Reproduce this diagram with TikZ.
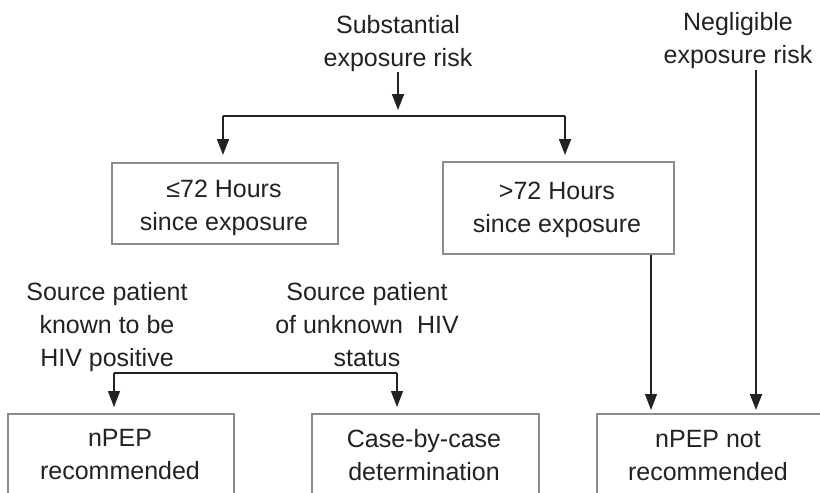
\documentclass[tikz,border=0pt]{standalone}
\usepackage{fontspec}
\setmainfont{Liberation Sans}
\usetikzlibrary{arrows.meta}
\definecolor{ink}{HTML}{222222}
\definecolor{boxgray}{HTML}{8C8C8C}
\begin{document}
\begin{tikzpicture}[x=1pt,y=-1pt,
  txt/.style={align=center, inner sep=0pt, anchor=base, text=ink, font=\fontsize{25}{33}\selectfont},
  box/.style={draw=boxgray, line width=1.5pt, inner sep=0pt, anchor=north west},
  conn/.style={draw=ink, line width=1.8pt},
  thickarrow/.style={draw=ink, line width=1.8pt, -{Triangle[length=16pt,width=12pt]}},
  thinarrow/.style={draw=ink, line width=1.2pt, -{Triangle[length=16pt,width=12pt]}},
]
\useasboundingbox (0,0) rectangle (820,493);
\clip (0,0) rectangle (820,493);

% top texts (anchor base = last line)
\node[txt] (sub) at (398,66) {Substantial\\exposure risk};
\node[txt] (neg) at (738,63) {Negligible\\exposure risk};

% middle boxes
\node[box, minimum width=226, minimum height=81] (le72box) at (111,162) {};
\node[txt] (le72) at (224,230) {≤72 Hours\\since exposure};
\node[box, minimum width=231, minimum height=92] (gt72box) at (442,161) {};
\node[txt] (gt72) at (557,232) {>72 Hours\\since exposure};

% source texts
\node[txt] (srcpos) at (107,366) {Source patient\\known to be\\HIV positive};
\node[txt] (srcunk) at (367,366) {Source patient\\of unknown~ HIV\\status};

% bottom boxes (cut off at bottom)
\node[box, minimum width=226, minimum height=120] (npepbox) at (7,413) {};
\node[txt] (npep) at (120,479) {nPEP\\recommended};
\node[box, minimum width=227, minimum height=120] (casebox) at (311,413) {};
\node[txt] (case) at (424,480) {Case-by-case\\determination};
\node[box, minimum width=260, minimum height=120] (notrecbox) at (596,413) {};
\node[txt] (notrec) at (708,480) {nPEP not\\recommended};

% connectors
\coordinate (subout) at (398,72);
\coordinate (tsplit) at (398,116);
\coordinate (tL) at (223,116);
\coordinate (tR) at (565,116);
\draw[thickarrow, shorten >=6pt] (subout) -- (tsplit);
\draw[conn] (tL) -- (tR);
\draw[thickarrow, shorten >=7pt] (tL) -- (tL |- le72box.north);
\draw[thickarrow, shorten >=6pt] (tR) -- (tR |- gt72box.north);

\coordinate (gtout) at (651,255);
\draw[thinarrow, shorten >=3pt] (gtout) -- (gtout |- notrecbox.north);
\coordinate (negout) at (756,70);
\draw[thickarrow, shorten >=3pt] (negout) -- (negout |- notrecbox.north);

\coordinate (bL) at (114,373);
\coordinate (bR) at (397,373);
\draw[draw=ink, line width=1.3pt] (bL) -- (bR);
\draw[thinarrow, shorten >=6pt] (bL) -- (bL |- npepbox.north);
\draw[thinarrow, shorten >=6pt] (bR) -- (bR |- casebox.north);
\end{tikzpicture}
\end{document}
